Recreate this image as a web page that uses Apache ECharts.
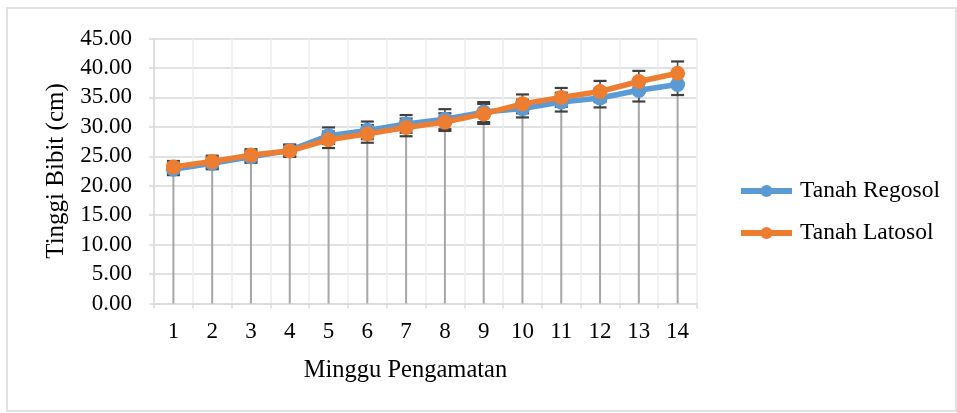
<!DOCTYPE html>
<html>
<head>
<meta charset="utf-8">
<script src="https://cdn.jsdelivr.net/npm/echarts@6/dist/echarts.min.js"></script>
<style>
html,body{margin:0;padding:0;background:#fff;}
#c{width:957px;height:413px;}
</style>
</head>
<body>
<div id="c"></div>
<script>
var weeks = ['1','2','3','4','5','6','7','8','9','10','11','12','13','14'];
var regosol = [22.8, 23.8, 24.9, 26.0, 28.5, 29.4, 30.5, 31.3, 32.5, 33.1, 34.2, 34.9, 36.2, 37.2];
var latosol = [23.2, 24.1, 25.2, 25.9, 27.8, 28.8, 29.9, 30.8, 32.2, 33.9, 35.0, 36.0, 37.7, 39.1];
var errRegosol = [1.0, 1.0, 1.0, 1.0, 1.4, 1.5, 1.5, 1.7, 1.7, 1.5, 1.6, 1.6, 1.9, 1.8];
var errLatosol = [1.0, 1.0, 1.0, 1.0, 1.4, 1.5, 1.5, 1.5, 1.7, 1.6, 1.6, 1.8, 1.8, 2.0];
var yTicks = [0, 5, 10, 15, 20, 25, 30, 35, 40, 45];

var FONT = '"Liberation Serif", "Times New Roman", serif';
var BLUE = '#5B9BD5', ORANGE = '#ED7D31';

var dropData = weeks.map(function (w, i) { return [i, Math.max(regosol[i], latosol[i])]; });
function errData(vals, errs) {
  return vals.map(function (v, i) { return [i, v - errs[i], v + errs[i]]; });
}

function errRender(params, api) {
  var x = api.value(0);
  var lo = api.coord([x, api.value(1)]);
  var hi = api.coord([x, api.value(2)]);
  var hw = 6.5;
  return {
    type: 'group',
    children: [
      { type: 'line', shape: { x1: lo[0], y1: lo[1], x2: hi[0], y2: hi[1] }, style: { stroke: '#4d4d4d', lineWidth: 1.6 } },
      { type: 'line', shape: { x1: lo[0] - hw, y1: lo[1], x2: lo[0] + hw, y2: lo[1] }, style: { stroke: '#404040', lineWidth: 2.2 } },
      { type: 'line', shape: { x1: hi[0] - hw, y1: hi[1], x2: hi[0] + hw, y2: hi[1] }, style: { stroke: '#404040', lineWidth: 2.2 } }
    ]
  };
}

var chart = echarts.init(document.getElementById('c'), null, { renderer: 'canvas' });
chart.setOption({
  animation: false,
  backgroundColor: '#ffffff',
  textStyle: { fontFamily: FONT },
  graphic: [{
    type: 'rect', shape: { x: 7, y: 8, width: 949, height: 403 },
    style: { fill: 'none', stroke: '#d9d9d9', lineWidth: 1.5 }, z: -10, silent: true
  }],
  grid: { left: 154, top: 38.5, right: 260, bottom: 109.5, containLabel: false },
  legend: {
    orient: 'vertical',
    left: 738, top: 179, padding: 0,
    itemWidth: 51, itemHeight: 15, itemGap: 18,
    lineStyle: { width: 6 },
    textStyle: { fontFamily: FONT, fontSize: 23.5, lineHeight: 24, color: '#000', padding: [0, 0, 0, 3] },
    data: ['Tanah Regosol', 'Tanah Latosol']
  },
  xAxis: {
    type: 'category',
    data: weeks,
    boundaryGap: true,
    name: 'Minggu Pengamatan',
    nameLocation: 'middle',
    nameGap: 55,
    nameTextStyle: { fontFamily: FONT, fontSize: 24.5, color: '#000', padding: [0, 40, 0, 0] },
    axisLine: { lineStyle: { color: '#d9d9d9', width: 1.5 } },
    axisTick: { show: true, interval: 0, length: 5, lineStyle: { color: '#d9d9d9', width: 1.5 } },
    axisLabel: { fontFamily: FONT, fontSize: 23, color: '#000', margin: 17, interval: 0 },
    splitLine: { show: true, interval: 0, lineStyle: { color: '#ededed', width: 1.5 } }
  },
  yAxis: {
    type: 'value',
    min: yTicks[0], max: yTicks[yTicks.length - 1], interval: 5,
    name: 'Tinggi Bibit (cm)',
    nameLocation: 'middle',
    nameGap: 83,
    nameTextStyle: { fontFamily: FONT, fontSize: 25, color: '#000' },
    axisLine: { show: true, lineStyle: { color: '#d9d9d9', width: 1.5 } },
    axisTick: { show: true, length: 5, lineStyle: { color: '#d9d9d9', width: 1.5 } },
    axisLabel: { fontFamily: FONT, fontSize: 23, color: '#000', margin: 22, formatter: function (v) { return v.toFixed(2); } },
    splitLine: { show: true, lineStyle: { color: '#d9d9d9', width: 1.5 } }
  },
  series: [
    {
      name: 'drop', type: 'custom', z: 1, silent: true,
      data: dropData,
      renderItem: function (params, api) {
        var x = api.value(0);
        var top = api.coord([x, api.value(1)]);
        var bot = api.coord([x, 0]);
        return { type: 'line', shape: { x1: top[0], y1: top[1], x2: bot[0], y2: bot[1] }, style: { stroke: '#a6a6a6', lineWidth: 2 } };
      }
    },
    { name: 'errR', type: 'custom', z: 2, silent: true, data: errData(regosol, errRegosol), renderItem: errRender },
    { name: 'errL', type: 'custom', z: 2, silent: true, data: errData(latosol, errLatosol), renderItem: errRender },
    {
      name: 'Tanah Regosol', type: 'line', z: 3, data: regosol,
      symbol: 'circle', symbolSize: 15,
      itemStyle: { color: BLUE },
      lineStyle: { color: BLUE, width: 5.5 }
    },
    {
      name: 'Tanah Latosol', type: 'line', z: 4, data: latosol,
      symbol: 'circle', symbolSize: 15,
      itemStyle: { color: ORANGE },
      lineStyle: { color: ORANGE, width: 5.5 }
    }
  ]
});
</script>
</body>
</html>
